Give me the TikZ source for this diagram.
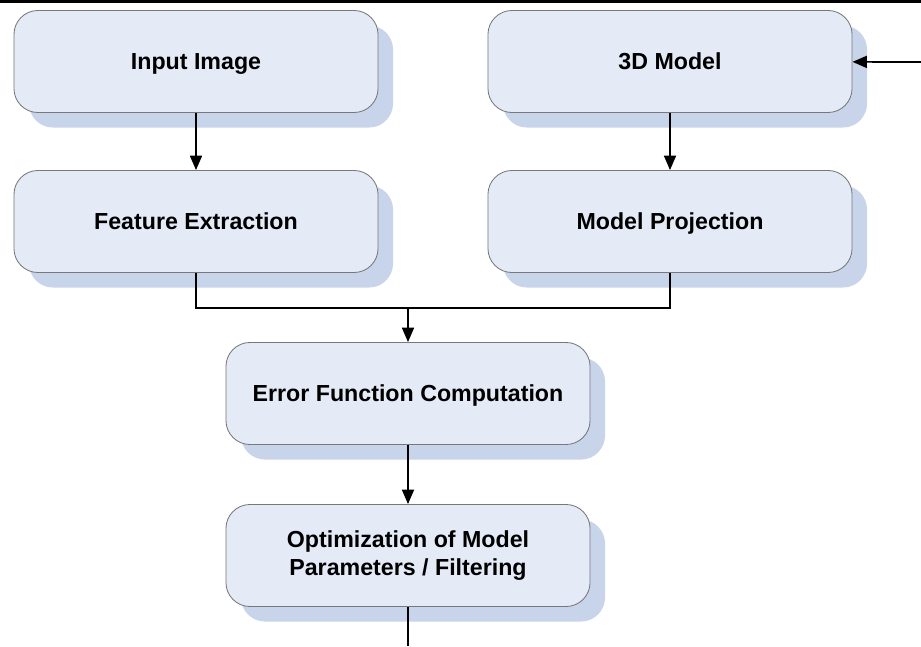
\documentclass[tikz,border=0pt]{standalone}
\usepackage{fontspec}
\setmainfont{Liberation Sans}
\usepackage{tikz}
\usetikzlibrary{positioning, shadows, arrows.meta}
\definecolor{boxfill}{RGB}{228,234,246}
\definecolor{boxshadow}{RGB}{200,212,234}
\definecolor{boxline}{RGB}{120,120,120}
\tikzset{box/.style = {rectangle, rounded corners=0.6cm, draw=boxline, line width=0.6pt,
                       fill=boxfill, minimum width=9.1cm, minimum height=2.55cm,
                       align=center, text height=12pt, text depth=0.8pt,
                       font=\bfseries\fontsize{16.5}{20}\selectfont,
                       general shadow={shadow xshift=0.375cm, shadow yshift=-0.375cm, fill=boxshadow}},
         flow/.style = {line width=1.2pt, -{Triangle[length=0.36cm, width=0.3cm]}}}

\begin{document}
\begin{tikzpicture}[x=0.025cm, y=-0.025cm]
    \useasboundingbox (0,0) rectangle (921,646);
    \draw [line width=0.075cm] (0,1.5) -- (921,1.5);

    \node [box] (A) at (196, 61.5)  {Input Image};
    \node [box] (B) at (670, 61.5)  {3D Model};
    \node [box] (C) at (196, 221.5) {Feature Extraction};
    \node [box] (D) at (670, 221.5) {Model Projection};
    \node [box] (E) at (408, 393.5) {Error Function Computation};
    \node [box, text height=, text depth=, inner ysep=0pt, text depth=3pt] (F) at (408, 555.5) {Optimization of Model\\Parameters / Filtering};

    \coordinate (join) at (408, 308);
    \coordinate (in)   at (921, 62);
    \coordinate (out)  at (408, 646);

    \draw [flow] (A) -- (C);
    \draw [flow] (B) -- (D);
    \draw [line width=1.2pt] (C.south) |- (join) -| (D.south);
    \draw [flow] (join) -- (E);
    \draw [flow] (E) -- (F);
    \draw [line width=1.2pt] (F) -- (out);
    \draw [flow] (in) -- (B);
\end{tikzpicture}
\end{document}
